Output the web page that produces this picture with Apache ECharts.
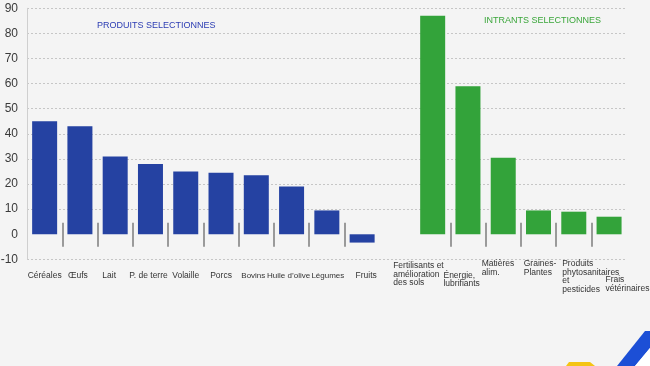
<!DOCTYPE html>
<html><head><meta charset="utf-8">
<script src="https://cdn.jsdelivr.net/npm/echarts@6/dist/echarts.min.js"></script>
<style>html,body{margin:0;padding:0;background:#f4f4f4;}#c{width:650px;height:366px;}</style>
</head><body><div id="c"></div>
<script>
// ---- data ----
const categories = ['Céréales', 'Œufs', 'Lait', 'P. de terre', 'Volaille', 'Porcs', 'Bovins', 'Huile d’olive', 'Légumes', 'Fruits', '',
  'Fertilisants et\namélioration\ndes sols', 'Énergie,\nlubrifiants', 'Matières\nalim.', 'Graines-\nPlantes', 'Produits\nphytosanitaires\net\npesticides', 'Frais\nvétérinaires'];
const produitsValues = [45, 43, 31, 28, 25, 24.5, 23.5, 19, 9.5, -3.3, null, null, null, null, null, null, null];
const intrantsValues = [null, null, null, null, null, null, null, null, null, null, null, 87, 59, 30.5, 9.5, 9, 7];
const yMin = -10, yMax = 90, yInterval = 10;
const groupTitles = ['PRODUITS SELECTIONNES', 'INTRANTS SELECTIONNES'];

// ---- style ----
const BLUE = '#2542a2', GREEN = '#33a33a';
const LABEL_FONT = "'Liberation Sans', Arial, sans-serif";
// label nudges (layout only): dx, dy in px; left = left-aligned block; size = font size
const labelNudge = {
  'Œufs': {dx: -2},
  'Lait': {dx: -6},
  'P. de terre': {dx: -2},
  'Bovins': {dx: -3, size: 8},
  'Huile d’olive': {dx: -3, size: 8},
  'Légumes': {dx: 1, size: 8},
  'Fruits': {dx: 4},
  'Fertilisants et\namélioration\ndes sols': {dx: -39.5, dy: -9.7, left: true},
  'Énergie,\nlubrifiants': {dx: -24.5, dy: 0, left: true},
  'Matières\nalim.': {dx: -21.6, dy: -11.7, left: true},
  'Graines-\nPlantes': {dx: -14.8, dy: -11.7, left: true},
  'Produits\nphytosanitaires\net\npesticides': {dx: -11.6, dy: -11.7, left: true},
  'Frais\nvétérinaires': {dx: -3.6, dy: 4.3, left: true}
};

const axisData = categories.map(c => {
  const n = labelNudge[c];
  if (!n) return c;
  const dx = n.dx || 0, dy = n.dy || 0;
  const ts = n.left
    ? {align: 'left', padding: [dy, 0, 0, dx]}
    : {padding: [dy, dx < 0 ? -2 * dx : 0, 0, dx > 0 ? 2 * dx : 0]};
  if (n.size) ts.fontSize = n.size;
  return {value: c, textStyle: ts};
});

// boundaries between categories (for the cross ticks on the zero line)
const groupOf = i => (produitsValues[i] != null ? 'p' : (intrantsValues[i] != null ? 'i' : null));
const boundaries = categories.map((_, i) => String(i)).concat(String(categories.length));
const tickShown = boundaries.map((_, b) => b > 0 && b < categories.length && groupOf(b - 1) != null && groupOf(b - 1) === groupOf(b));

const splitColors = [];
for (let v = yMin; v <= yMax; v += yInterval) splitColors.push(v === 0 ? 'rgba(0,0,0,0)' : '#c6c6c6');

function tickAxis(position, yIdx, length) {
  return {
    type: 'category', data: boundaries, boundaryGap: false, position: position,
    axisLine: {show: false, onZero: true, onZeroAxisIndex: yIdx},
    axisTick: {show: true, length: length, interval: (idx) => tickShown[idx], lineStyle: {color: '#7c7c7c', width: 1.5}},
    axisLabel: {show: false}, splitLine: {show: false}, axisPointer: {show: false}
  };
}

const chart = echarts.init(document.getElementById('c'), null, {renderer: 'canvas'});
chart.setOption({
  animation: false,
  backgroundColor: '#f4f4f4',
  title: [
    {text: groupTitles[0], left: 97, top: 21.5, padding: 0,
      textStyle: {fontSize: 9, fontWeight: 'normal', color: '#2b3cb3', fontFamily: LABEL_FONT, lineHeight: 9}},
    {text: groupTitles[1], left: 484, top: 16.5, padding: 0,
      textStyle: {fontSize: 9, fontWeight: 'normal', color: '#3aa63a', fontFamily: LABEL_FONT, lineHeight: 9}}
  ],
  grid: {left: 27, right: 23.3, top: 8.3, bottom: 106.6, outerBoundsMode: 'none', containLabel: false},
  xAxis: [
    {
      type: 'category', data: axisData, position: 'bottom',
      axisLine: {show: false, onZero: false}, axisTick: {show: false},
      axisLabel: {interval: 0, margin: 12, fontSize: 8.5, lineHeight: 8.5, color: '#333', fontFamily: LABEL_FONT},
      splitLine: {show: false}
    },
    tickAxis('bottom', 0, 12.5),
    tickAxis('top', 1, 11.5)
  ],
  yAxis: [
    {
      type: 'value', min: yMin, max: yMax, interval: yInterval,
      axisLine: {show: true, lineStyle: {color: '#cfcfcf', width: 1}},
      axisTick: {show: false},
      axisLabel: {margin: 9, color: '#3a3a3a', fontSize: 12, fontFamily: "'Liberation Sans Narrow', 'Liberation Sans', sans-serif"},
      splitLine: {show: true, lineStyle: {color: splitColors, type: [2, 2], width: 1}}
    },
    {type: 'value', min: yMin, max: yMax, interval: yInterval, show: false, splitLine: {show: false}}
  ],
  series: [
    {type: 'bar', name: groupTitles[0], data: produitsValues, barWidth: 25, barGap: '-100%', itemStyle: {color: BLUE}},
    {type: 'bar', name: groupTitles[1], data: intrantsValues, barWidth: 25, barGap: '-100%', itemStyle: {color: GREEN}}
  ],
  graphic: [
    {type: 'polygon', z: 100, shape: {points: [[569, 362], [590, 362], [595, 366], [566, 366]]}, style: {fill: '#f4c414'}},
    {type: 'polygon', z: 100, shape: {points: [[617, 366], [635, 366], [650, 348], [650, 331], [645, 331]]}, style: {fill: '#1c4fd6'}},
    {type: 'polygon', z: 100, shape: {points: [[635, 366], [650, 366], [650, 348]]}, style: {fill: '#ffffff'}}
  ]
});
</script>
</body></html>
